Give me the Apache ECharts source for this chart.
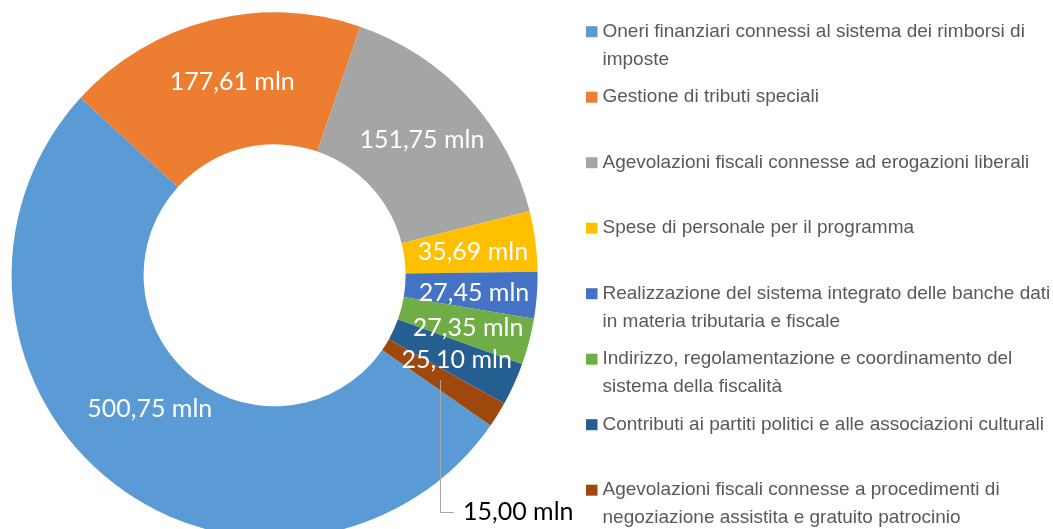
<!DOCTYPE html>
<html>
<head>
<meta charset="utf-8">
<script src="https://cdn.jsdelivr.net/npm/echarts@6/dist/echarts.min.js"></script>
<style>
  html, body { margin: 0; padding: 0; background: #fff; overflow: hidden; }
  #chart { width: 1053px; height: 529px; }
</style>
</head>
<body>
<div id="chart"></div>
<script>
const categories = [
  'Oneri finanziari connessi al sistema dei rimborsi di\nimposte',
  'Gestione di tributi speciali',
  'Agevolazioni fiscali connesse ad erogazioni liberali',
  'Spese di personale per il programma',
  'Realizzazione del sistema integrato delle banche dati\nin materia tributaria e fiscale',
  'Indirizzo, regolamentazione e coordinamento del\nsistema della fiscalità',
  'Contributi ai partiti politici e alle associazioni culturali',
  'Agevolazioni fiscali connesse a procedimenti di\nnegoziazione assistita e gratuito patrocinio',
]
const values = [500.75, 177.61, 151.75, 35.69, 27.45, 27.35, 25.10, 15.00]
const colors = ['#5B9BD5', '#ED7D31', '#A5A5A5', '#FFC000', '#4472C4', '#70AD47', '#255E91', '#9E480E']

const fmt = v => v.toFixed(2).replace('.', ',') + ' mln'

const pieData = categories.map((name, i) => {
  const item = { name, value: values[i], itemStyle: { color: colors[i] } }
  // the smallest slice is labelled outside, with a leader line drawn below
  if (i === 7) item.label = { position: 'outside', color: '#000' }
  return item
})

// one legend per entry so every row keeps the same spacing;
// two-line entries get a taller icon box with the square drawn at the first line
const lineH = 27.6
const icon2 = 'path://M0,0L0,0M0,8.3h11.5v11h-11.5zM0,55.2L0,55.2'
const legends = categories.map((name, i) => {
  const lines = name.split('\n').length
  const rowCentre = 31.7 + i * 65.5
  return {
    data: [name],
    orient: 'vertical',
    left: 586,
    top: rowCentre - lineH / 2,
    padding: 0,
    itemWidth: 11.5,
    itemHeight: lines > 1 ? lineH * 2 : 11,
    icon: lines > 1 ? icon2 : 'rect',
    selectedMode: false,
    textStyle: {
      fontFamily: 'Liberation Sans',
      fontSize: 19,
      color: '#595959',
      lineHeight: lineH,
    },
  }
})

const labelShift = {
  0: { dy: -23 },
  1: { dx: 7 },
  3: { dy: 3 },
  4: { dy: 2 },
  5: { dy: 2 },
  6: { dy: 2 },
}

const chart = echarts.init(document.getElementById('chart'))
chart.setOption({
  animation: false,
  legend: legends,
  // leader line for the 15,00 mln label, drawn over the ring like in the source
  graphic: [{
    type: 'polyline',
    z: 100,
    silent: true,
    shape: { points: [[440.5, 380], [440.5, 512.5], [454, 512.5]] },
    style: { stroke: '#A6A6A6', lineWidth: 1, fill: null },
  }],
  series: [{
    type: 'pie',
    silent: true,
    center: [274.6, 275.3],
    radius: [131, 263],
    startAngle: -34.8,
    avoidLabelOverlap: false,
    label: {
      show: true,
      position: 'inside',
      color: '#fff',
      fontFamily: 'Lato',
      fontSize: 25,
      formatter: p => fmt(p.value),
    },
    labelLine: { show: false },
    labelLayout(params) {
      if (params.dataIndex === 7) {
        return { x: 463, y: 512, align: 'left', verticalAlign: 'middle' }
      }
      return labelShift[params.dataIndex] || {}
    },
    data: pieData,
  }],
})
</script>
</body>
</html>
